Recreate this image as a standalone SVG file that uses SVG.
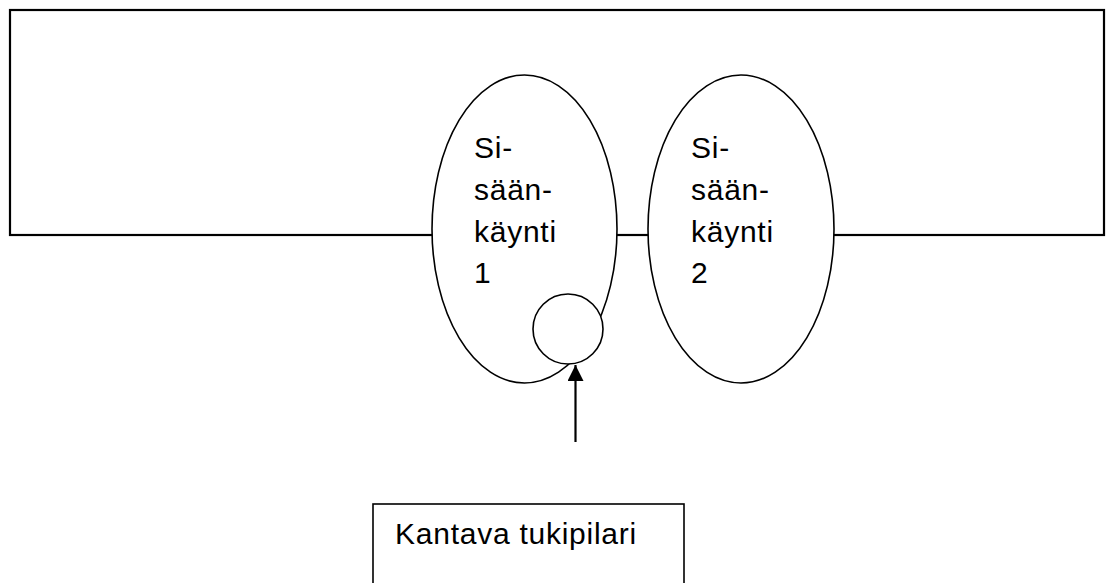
<svg xmlns="http://www.w3.org/2000/svg" width="1106" height="583" viewBox="0 0 1106 583">
  <style>
    .shape { fill: #ffffff; stroke: #000000; stroke-width: 1.6; }
    .lbl { font-family: "Liberation Sans", Arial, sans-serif; font-size: 30px; letter-spacing: 0.75px; fill: #000000; }
  </style>
  <defs>
    <marker id="arrowhead" markerWidth="18" markerHeight="18" refX="16" refY="8" orient="auto" markerUnits="userSpaceOnUse">
      <path d="M0,0 L16,8 L0,16 Z" fill="#000000"/>
    </marker>
  </defs>
  <rect width="1106" height="583" fill="#ffffff"/>
  <g id="building">
    <rect x="10" y="10" width="1094" height="225" fill="#ffffff" stroke="#000000" stroke-width="2.2"/>
  </g>
  <g id="entrance1">
    <ellipse class="shape" cx="524.5" cy="229" rx="92.5" ry="154"/>
    <text class="lbl" x="474" y="158">Si-</text>
    <text class="lbl" x="474" y="200">sään-</text>
    <text class="lbl" x="474" y="241.5">käynti</text>
    <text class="lbl" x="474" y="283">1</text>
  </g>
  <g id="entrance2">
    <ellipse class="shape" cx="741" cy="229" rx="93" ry="154"/>
    <text class="lbl" x="691" y="158">Si-</text>
    <text class="lbl" x="691" y="200">sään-</text>
    <text class="lbl" x="691" y="241.5">käynti</text>
    <text class="lbl" x="691" y="283">2</text>
  </g>
  <g id="pillar">
    <circle class="shape" cx="568" cy="329" r="35"/>
  </g>
  <g id="label-box">
    <rect class="shape" x="373" y="504" width="311" height="100"/>
    <text class="lbl" x="395" y="544">Kantava tukipilari</text>
  </g>
  <g id="connectors">
    <line x1="575.5" y1="442" x2="575.5" y2="365" stroke="#000000" stroke-width="2.2" marker-end="url(#arrowhead)"/>
  </g>
</svg>
